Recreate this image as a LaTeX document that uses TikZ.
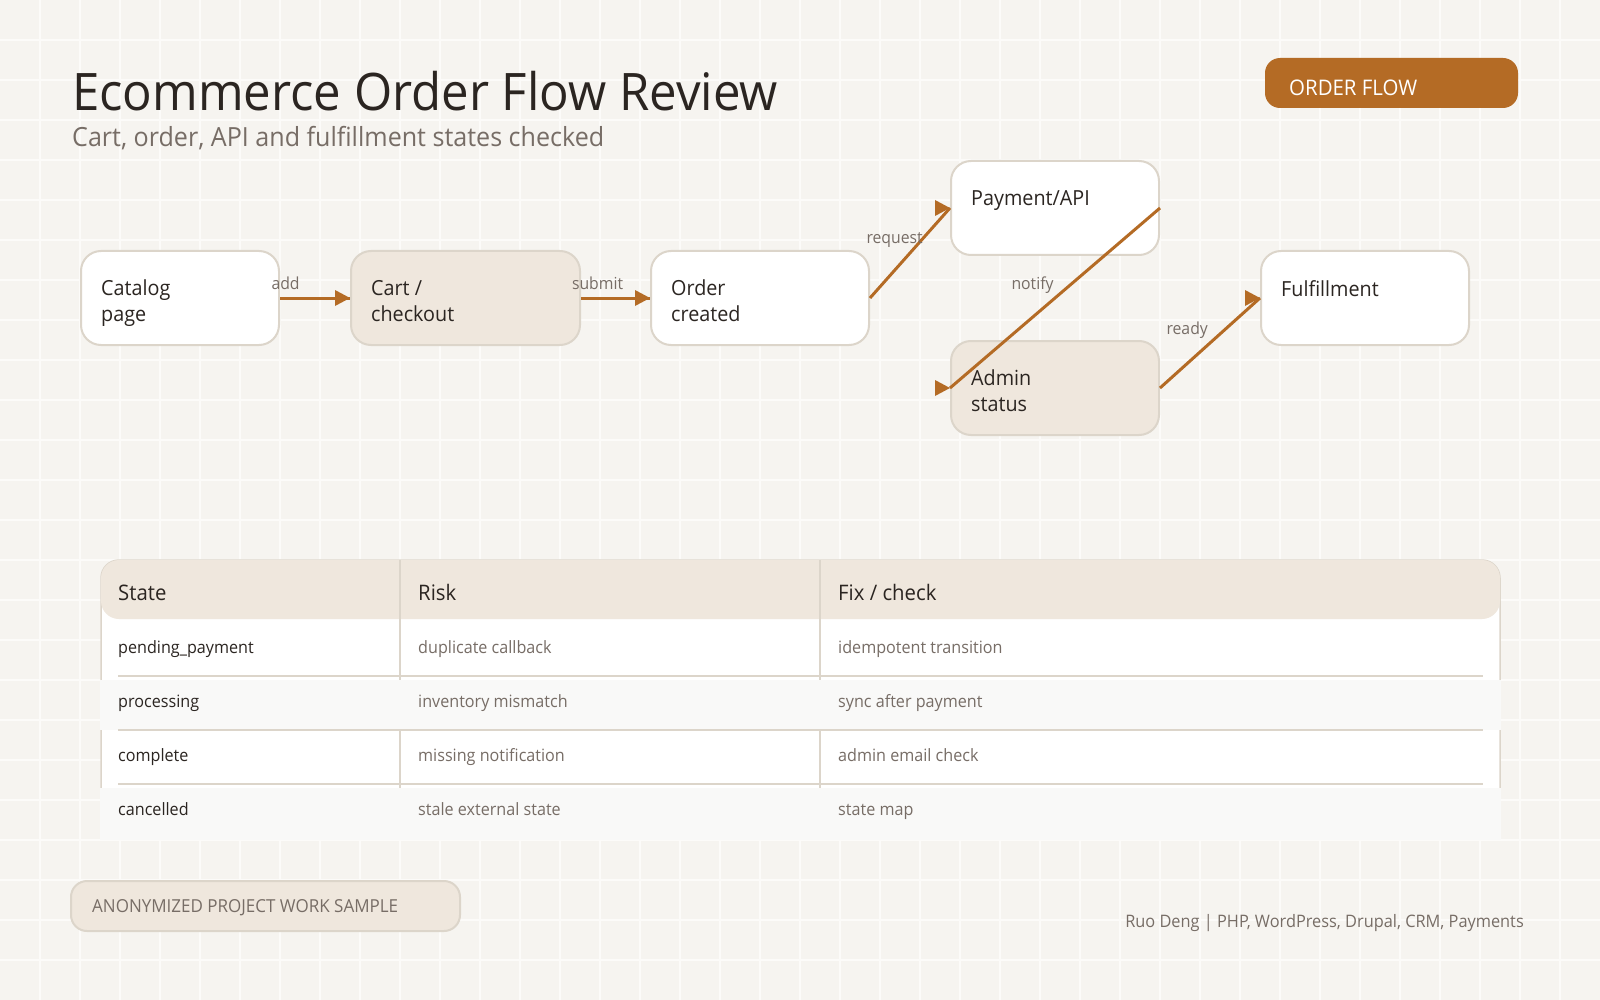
\documentclass[tikz,border=0pt]{standalone}
\usepackage{fontspec}
\setmainfont{Open Sans}[FakeStretch=0.95]
\usetikzlibrary{positioning}

\definecolor{paper}{HTML}{F6F4F0}
\definecolor{gridw}{HTML}{FCFBF9}
\definecolor{ink}{HTML}{2B2521}
\definecolor{muted}{HTML}{776D66}
\definecolor{sand}{HTML}{EFE7DD}
\definecolor{rim}{HTML}{DCD5CA}
\definecolor{rust}{HTML}{B46B25}
\definecolor{rowgrey}{HTML}{F9F9F8}

\tikzset{
  stage/.style={draw=rim, line width=2, rounded corners=20, fill=white,
    minimum height=94, inner sep=0},
  stagesand/.style={stage, fill=sand},
  stagetext/.style={anchor=base west, inner sep=0, align=left, text=ink,
    font=\fontsize{20.8}{26}\selectfont},
  flow/.style={draw=rust, line width=3},
  edgelbl/.style={anchor=base west, inner sep=0, text=muted,
    font=\fontsize{16.6}{16}\selectfont, xshift=-45, yshift=9},
  cell/.style={anchor=base west, inner sep=0, font=\fontsize{17}{17}\selectfont},
}
\newcommand\headat[1]{\fill[rust] (#1) -- ++(-15,-8) -- ++(0,16) -- cycle;}

\begin{document}
\begin{tikzpicture}[x=1pt, y=-1pt]
        % Fond et grille
        \useasboundingbox (0,0) rectangle (1600,1000);
        \fill[paper] (0,0) rectangle (1600,1000);
        \foreach \x in {40,80,...,1560} \draw[gridw, line width=1.5] (\x,0) -- (\x,1000);
        \foreach \y in {40,80,...,960} \draw[gridw, line width=1.5] (0,\y) -- (1600,\y);

        % Titre
        \node[anchor=base west, inner sep=0, text=ink, font=\fontsize{51.7}{52}\selectfont] (title) at (72,111) {Ecommerce Order Flow Review};
        \node[anchor=base west, inner sep=0, text=muted, font=\fontsize{26.4}{26}\selectfont] (subtitle) at (72,147) {Cart, order, API and fulfillment states checked};

        % Badge
        \draw[fill=rust, draw=none, rounded corners=15] (1265,58) rectangle (1518,108);
        \node[anchor=base west, inner sep=0, text=white, font=\fontsize{21.5}{21}\selectfont] (badge) at (1289,96) {ORDER FLOW};

        % Etapes
        \node[stage, minimum width=198] (cat) at (180,298) {};
        \node[stagesand, minimum width=229] (cart) at (465.5,298) {};
        \node[stage, minimum width=218] (order) at (760,298) {};
        \node[stage, minimum width=208] (pay) at (1055,208) {};
        \node[stagesand, minimum width=208] (admin) at (1055,388) {};
        \node[stage, minimum width=208] (ful) at (1365,298) {};

        % (ancre base = derniere ligne)
        \node[stagetext] (catT) at ([shift={(21,71)}]cat.north west) {Catalog\\page};
        \node[stagetext] (cartT) at ([shift={(21,71)}]cart.north west) {Cart /\\checkout};
        \node[stagetext] (orderT) at ([shift={(21,71)}]order.north west) {Order\\created};
        \node[stagetext] (payT) at ([shift={(21,46)}]pay.north west) {Payment/API};
        \node[stagetext] (adminT) at ([shift={(21,71)}]admin.north west) {Admin\\status};
        \node[stagetext] (fulT) at ([shift={(21,46)}]ful.north west) {Fulfillment};

        % Fleches
        \draw[flow] (cat.east) -- (cart.west) node[edgelbl, midway] {add};
        \headat{cart.west}
        \draw[flow] (cart.east) -- (order.west) node[edgelbl, midway] {submit};
        \headat{order.west}
        \draw[flow] (order.east) -- (pay.west) node[edgelbl, midway] {request};
        \headat{pay.west}
        \draw[flow] (pay.east) -- (admin.west) node[edgelbl, midway] {notify};
        \headat{admin.west}
        \draw[flow] (admin.east) -- (ful.west) node[edgelbl, midway] {ready};
        \headat{ful.west}

        % Tableau
        \draw[rim, line width=1.5, fill=white, rounded corners=18] (101,560) rectangle (1500,838);
        \fill[sand, rounded corners=18] (101,560) rectangle (1500,619);
        \foreach \x in {400,820} \draw[rim, line width=1.5] (\x,560) -- (\x,838);
        \fill[rowgrey] (100,680) rectangle (1501,730);
        \fill[rowgrey] (100,788) rectangle (1501,840);
        \foreach \y in {676,730,784} \draw[rim, line width=1.5] (118,\y) -- (1483,\y);

        \node[cell, text=ink, font=\fontsize{21.4}{21}\selectfont] (hState) at (118,600) {State};
        \node[cell, text=ink, font=\fontsize{21.4}{21}\selectfont] (hRisk) at (418,600) {Risk};
        \node[cell, text=ink, font=\fontsize{21.4}{21}\selectfont] (hFix) at (838,600) {Fix / check};
        \foreach \s/\r/\f [count=\i from 0] in {pending\_payment/duplicate callback/idempotent transition,
            processing/inventory mismatch/sync after payment,
            complete/missing notification/admin email check,
            cancelled/stale external state/state map} {
          \node[cell, text=ink] (st\i) at (118,653+54*\i) {\s};
          \node[cell, text=muted] (ri\i) at (418,653+54*\i) {\r};
          \node[cell, text=muted] (fx\i) at (838,653+54*\i) {\f};
        }

        % Pied de page
        \draw[fill=sand, draw=rim, line width=2, rounded corners=16] (71,881) rectangle (460,931);
        \node[anchor=base west, inner sep=0, text=muted, font=\fontsize{17.9}{18}\selectfont] (sample) at (92,912) {ANONYMIZED PROJECT WORK SAMPLE};
        \node[anchor=base east, inner sep=0, text=muted, font=\fontsize{17.2}{17}\selectfont] (credit) at (1524,927) {Ruo Deng | PHP, WordPress, Drupal, CRM, Payments};
    \end{tikzpicture}
\end{document}
